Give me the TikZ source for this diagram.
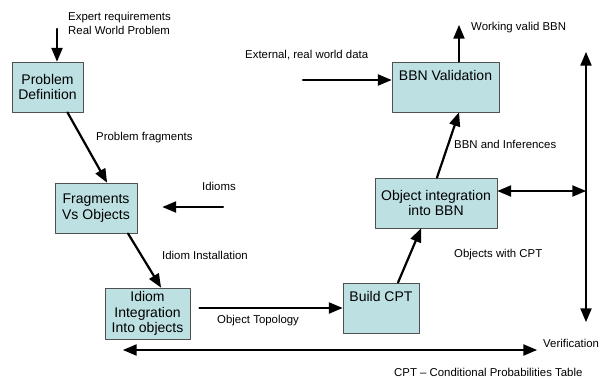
\documentclass[tikz,border=0pt]{standalone}
\usepackage{fontspec}
\setmainfont{Liberation Sans}
\usetikzlibrary{arrows}
\definecolor{boxfill}{RGB}{189,224,226}
\definecolor{boxline}{RGB}{80,80,80}

\begin{document}
\begin{tikzpicture}[line cap=round,line join=round,>=triangle 45,x=1pt,y=-1pt,
  box/.style={draw=boxline,fill=boxfill,line width=0.9pt,align=center,inner sep=2pt,
    font=\fontsize{14}{15.5}\selectfont},
  boxtop/.style={box,text height=10pt,text depth=24pt},
  lab/.style={anchor=west,inner sep=0pt,align=left,font=\fontsize{11.4}{14}\selectfont},
  arr/.style={->,line width=2.2pt}]
\useasboundingbox (0,0) rectangle (601,378);
% process boxes
\node[box,minimum width=71,minimum height=50] (pd) at (47.5,87) {Problem\\Definition};
\node[box,minimum width=82,minimum height=50] (fvo) at (96,208) {Fragments\\Vs Objects};
\node[box,minimum width=85,minimum height=51] (iio) at (147.5,313.5) {Idiom\\Integration\\Into objects};
\node[boxtop,minimum width=76,minimum height=50] (cpt) at (381,308) {Build CPT};
\node[box,minimum width=122,minimum height=50] (oib) at (436,203) {Object integration\\into BBN};
\node[boxtop,minimum width=107,minimum height=50] (bbn) at (445.5,87) {BBN Validation};
% free ends
\coordinate (expert) at (57,29);
\coordinate (idm) at (223,207);
\coordinate (extdata) at (303,80);
\coordinate (working) at (459,25);
\coordinate (vtop) at (586,52);
\coordinate (vbot) at (586,322);
\coordinate (verl) at (123,350);
\coordinate (verr) at (537,350);
% connectors
\draw[arr] (expert) -- (expert |- pd.north);
\draw[arr] ([xshift=20pt]pd.south) -- ([xshift=11pt]fvo.north);
\draw[arr] (idm) -- ([xshift=25pt]fvo.east |- idm);
\draw[arr] ([xshift=32pt]fvo.south) -- ([xshift=13.5pt]iio.north);
\draw[arr] ([xshift=9pt]iio.east |- cpt.west) -- (cpt.west);
\draw[arr] ([xshift=17pt]cpt.north) -- ([xshift=-15pt]oib.south);
\draw[arr] ([xshift=1pt]oib.north) -- ([xshift=13.5pt]bbn.south);
\draw[arr] (working |- bbn.north) -- (working);
\draw[arr] (extdata) -- (extdata -| bbn.west);
\draw[<->,line width=2.2pt] ([yshift=12pt]oib.east) -- ([yshift=12pt]oib.east -| vtop);
\draw[<->,line width=2.2pt] (vtop) -- (vbot);
\draw[<->,line width=2.2pt] (verl) -- (verr);
% labels
\node[lab] (lexpert) at (68,23) {Expert requirements\\Real World Problem};
\node[lab] (lfrag) at (96,138) {Problem fragments};
\node[lab] (lidioms) at (202,186) {Idioms};
\node[lab] (linst) at (162,255) {Idiom Installation};
\node[lab] (ltopo) at (217,321) {Object Topology};
\node[lab] (linfer) at (454,144) {BBN and Inferences};
\node[lab] (lobjcpt) at (454,255) {Objects with CPT};
\node[lab] (lwork) at (471,28) {Working valid BBN};
\node[lab] (lext) at (245,55) {External, real world data};
\node[lab] (lverif) at (543,343) {Verification};
\node[lab] (lcpt) at (394,372) {CPT -- Conditional Probabilities Table};
\end{tikzpicture}
\end{document}
